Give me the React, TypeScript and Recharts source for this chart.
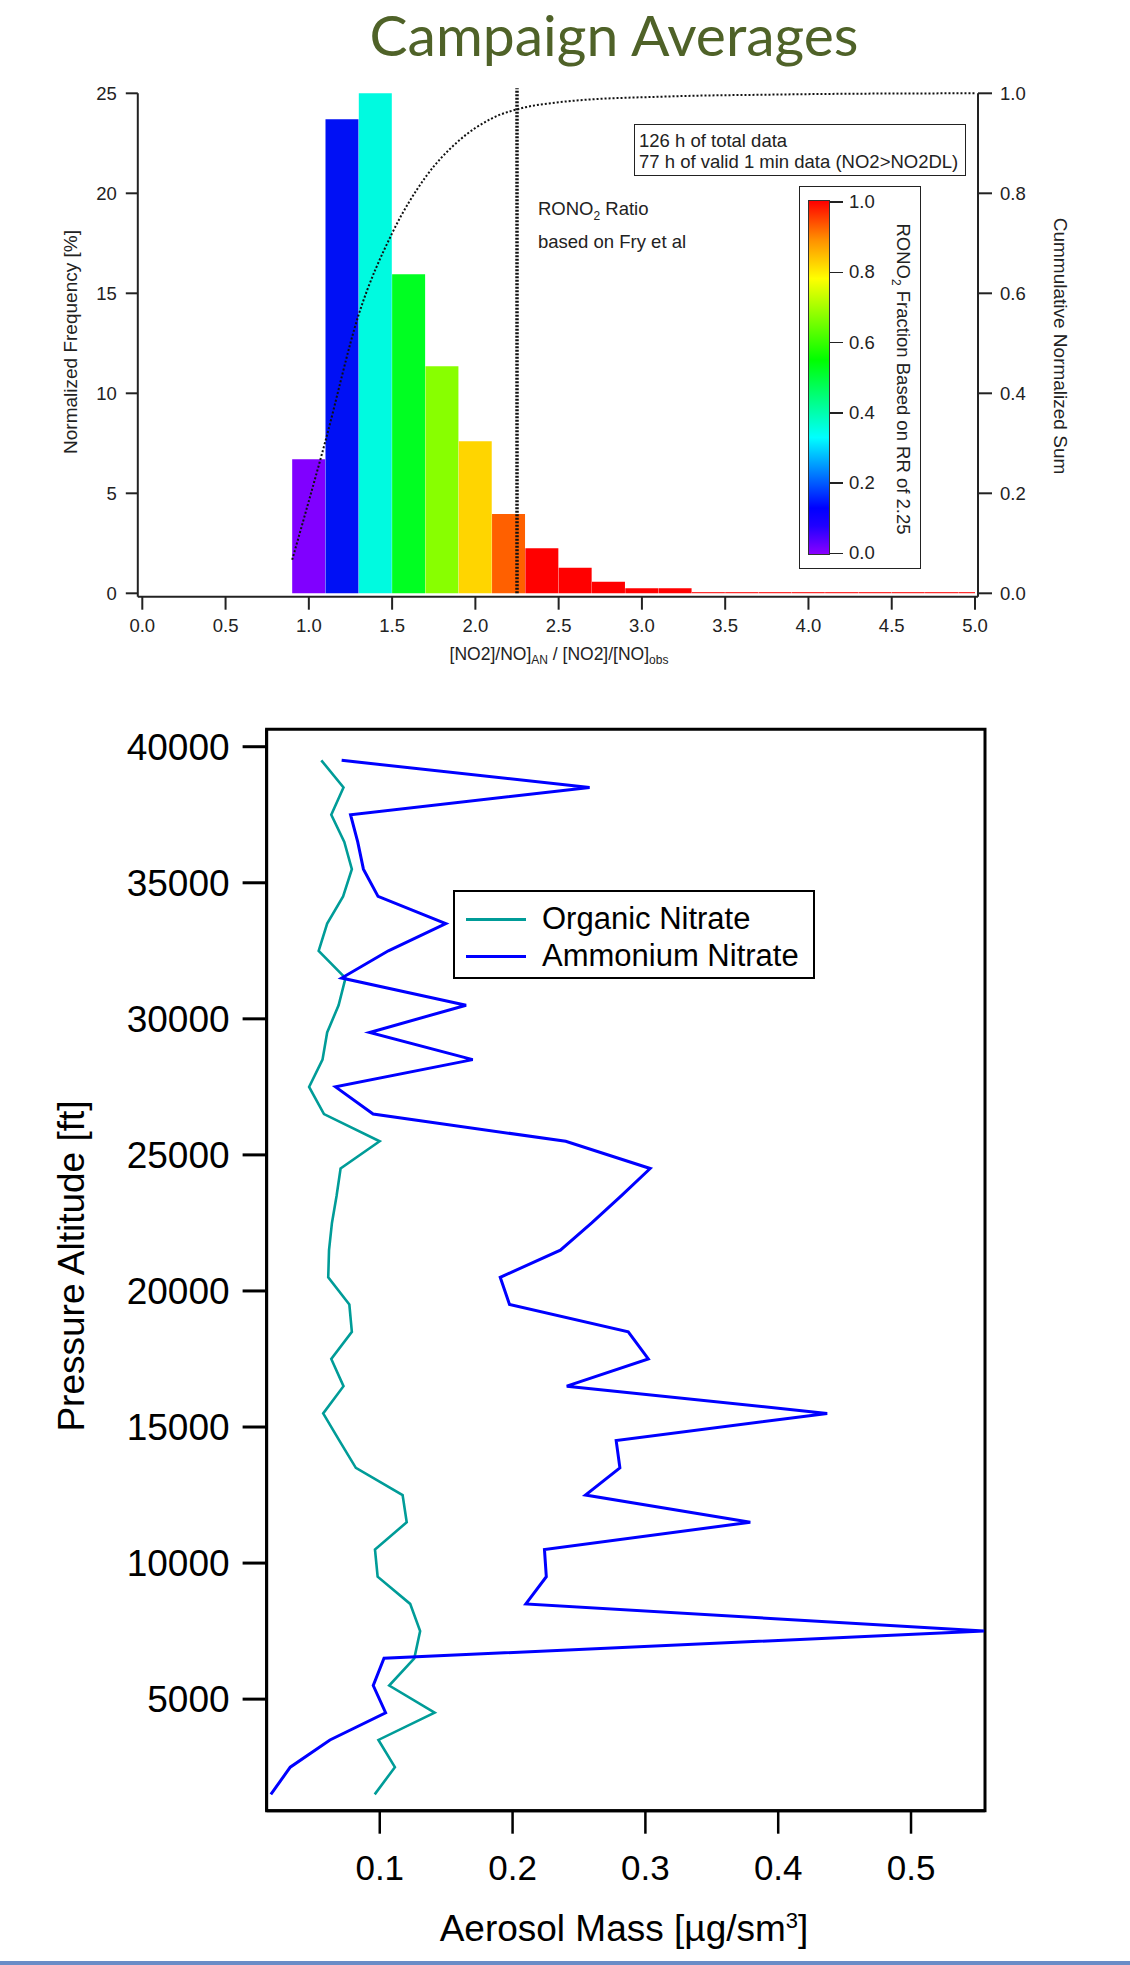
import React from "react";
import {
  ComposedChart,
  Bar,
  Cell,
  Line,
  LineChart,
  XAxis,
  YAxis,
  ReferenceLine,
  ReferenceArea,
} from "recharts";

// ---------- top histogram ----------
const binCenters = [1.0, 1.2, 1.4, 1.6, 1.8, 2.0, 2.2, 2.4, 2.6, 2.8, 3.0, 3.2, 3.4, 3.6, 3.8, 4.0, 4.2, 4.4, 4.6, 4.8, 5.0];
const binFreq = [6.7, 23.7, 25.0, 15.95, 11.35, 7.6, 3.97, 2.25, 1.28, 0.58, 0.25, 0.25, 0.06, 0.06, 0.06, 0.06, 0.06, 0.06, 0.06, 0.06, 0.06];
const binColors = [
  "#8000FF", "#0010F5", "#00FAE0", "#00FF22", "#88FF00", "#FFD500", "#FF6000",
  "#FF0000", "#FF0000", "#FF0000", "#FF0000", "#FF0000", "#FF3030", "#FF3030",
  "#FF3030", "#FF3030", "#FF3030", "#FF3030", "#FF3030", "#FF3030", "#FF3030",
];

const cumX = [0.9, 1.1, 1.3, 1.5, 1.7, 1.9, 2.1, 2.3, 2.5, 2.7, 2.9, 3.1, 3.3, 3.7, 4.2, 5.0];
const cumSum = [0.067, 0.305, 0.558, 0.72, 0.832, 0.905, 0.95, 0.972, 0.982, 0.988, 0.991, 0.993, 0.995, 0.997, 0.999, 1.0];

const freqTicks = [0, 5, 10, 15, 20, 25];
const ratioTicks = [0, 0.5, 1.0, 1.5, 2.0, 2.5, 3.0, 3.5, 4.0, 4.5, 5.0];
const cumTicks = [0, 0.2, 0.4, 0.6, 0.8, 1.0];
const fryRatio = 2.25;

const colorbarTicks = [0, 0.2, 0.4, 0.6, 0.8, 1.0];
const colorbarStops = [
  "#8A00FF 0%", "#2000FF 8%", "#0000FF 13%", "#00FFFF 33%", "#00FF00 55%",
  "#FFFF00 78%", "#FF9000 89%", "#FF0000 100%",
];

// ---------- bottom profile ----------
const altitudes = [
  39500, 38500, 37500, 36500, 35500, 34500, 33500, 32500, 31500, 30500,
  29500, 28500, 27500, 26500, 25500, 24500, 23500, 22500, 21500, 20500,
  19500, 18500, 17500, 16500, 15500, 14500, 13500, 12500, 11500, 10500,
  9500, 8500, 7500, 6500, 5500, 4500, 3500, 2500, 1500,
];
const organicNitrate = [
  0.056, 0.0727, 0.0635, 0.0733, 0.079, 0.0724, 0.0604, 0.054, 0.0742, 0.069,
  0.0604, 0.0569, 0.0468, 0.058, 0.0999, 0.0705, 0.0675, 0.064, 0.0618, 0.0612,
  0.0771, 0.079, 0.0635, 0.0727, 0.0574, 0.0696, 0.082, 0.1172, 0.1203, 0.0964,
  0.0984, 0.1229, 0.1304, 0.126, 0.1071, 0.1413, 0.099, 0.1114, 0.0962,
];
const ammoniumNitrate = [
  0.0713, 0.258, 0.078, 0.0834, 0.0877, 0.0987, 0.1497, 0.1065, 0.0713, 0.165,
  0.0924, 0.17, 0.0667, 0.095, 0.24, 0.3036, 0.282, 0.2596, 0.236, 0.1907,
  0.1977, 0.2871, 0.3022, 0.2408, 0.4369, 0.278, 0.2808, 0.2549, 0.379, 0.224,
  0.2254, 0.21, 0.555, 0.1032, 0.0951, 0.1044, 0.0625, 0.0326, 0.018,
];
const seriesNames = ["Organic Nitrate", "Ammonium Nitrate"];
const seriesColors = ["#009C98", "#0000FF"];
const altTicks = [5000, 10000, 15000, 20000, 25000, 30000, 35000, 40000];
const massTicks = [0.1, 0.2, 0.3, 0.4, 0.5];
const altDomain = [900, 40640];
const massDomain = [0.0148, 0.5557];

const histData = binCenters.map((x, i) => ({ x, freq: binFreq[i] }));
const cumData = cumX.map((x, i) => ({ x, cum: cumSum[i] }));
const profileRows = altitudes.map((alt, i) => ({
  alt,
  organic: organicNitrate[i],
  ammonium: ammoniumNitrate[i],
}));

const FONT = "'Liberation Sans', Arial, sans-serif";
const topTick = { fontSize: 18.5, fill: "#222", fontFamily: FONT };
const botTickY = { fontSize: 37, fill: "#000", fontFamily: FONT };
const botTickX = { fontSize: 35, fill: "#000", fontFamily: FONT };
const topAxisLine = { stroke: "#222", strokeWidth: 2 };

// plot box of the histogram (page pixels)
const TOP_W = 1130;
const TOP_H = 700;
const topMargin = { top: 93.3, left: 137.8, right: 152, bottom: 103.3 };
const xPad = { left: 4.5, right: 3 };
const yPad = { top: 0, bottom: 3.4 };

const abs = (left: number, top: number, extra: any = {}) => ({
  position: "absolute" as const,
  left,
  top,
  ...extra,
});

const rotated = (cx: number, cy: number, deg: number, size: number, extra: any = {}) => ({
  position: "absolute" as const,
  left: cx,
  top: cy,
  transform: `translate(-50%, -50%) rotate(${deg}deg)`,
  whiteSpace: "nowrap" as const,
  fontSize: size,
  fontFamily: FONT,
  lineHeight: 1,
  ...extra,
});

function Colorbar() {
  const top = 202;
  const bottom = 553.3;
  return (
    <>
      <div style={abs(799, 186, { width: 120, height: 381, border: "1.5px solid #222" })} />
      <div
        style={abs(808, 200, {
          width: 20,
          height: 353,
          border: "1px solid #333",
          background: `linear-gradient(to top, ${colorbarStops.join(", ")})`,
        })}
      />
      {colorbarTicks.map((t) => {
        const y = bottom - t * (bottom - top);
        return (
          <React.Fragment key={t}>
            <div style={abs(830, y - 0.75, { width: 13, height: 1.5, background: "#222" })} />
            <div style={abs(849, y - 11, { fontSize: 18.5, fontFamily: FONT, color: "#222", lineHeight: "22px" })}>
              {t.toFixed(1)}
            </div>
          </React.Fragment>
        );
      })}
      <div style={rotated(901, 379, 90, 18.5, { color: "#222" })}>
        RONO<sub style={{ fontSize: 12 }}>2</sub> Fraction Based on RR of 2.25
      </div>
    </>
  );
}

export default function App() {
  return (
    <div style={abs(0, 0, { width: 1130, height: 1965, background: "#fff", overflow: "hidden", fontFamily: FONT })}>
      <div
        style={{
          position: "absolute",
          left: 614,
          top: 0,
          transform: "translateX(-50%)",
          fontFamily: "Lato, 'Open Sans', sans-serif",
          fontSize: 57,
          lineHeight: 1.2,
          color: "#4F6228",
          whiteSpace: "nowrap",
        }}
      >
        Campaign Averages
      </div>

      {/* histogram with left and bottom axes */}
      <div style={abs(0, 0)}>
        <ComposedChart
          width={TOP_W}
          height={TOP_H}
          data={histData}
          margin={{ top: topMargin.top, left: 0, right: topMargin.right, bottom: 0 }}
          barCategoryGap={0}
          barGap={0}
        >
          <XAxis
            dataKey="x"
            type="number"
            domain={[0, 5]}
            ticks={ratioTicks}
            tickFormatter={(v: number) => v.toFixed(1)}
            allowDataOverflow
            padding={xPad}
            height={topMargin.bottom}
            tickSize={13}
            tickMargin={9}
            tick={topTick}
            axisLine={topAxisLine}
            tickLine={topAxisLine}
          />
          <YAxis
            type="number"
            domain={[0, 25]}
            ticks={freqTicks}
            padding={yPad}
            width={topMargin.left}
            tickSize={12}
            tickMargin={9}
            tick={topTick}
            axisLine={topAxisLine}
            tickLine={topAxisLine}
          />
          <Bar dataKey="freq" isAnimationActive={false}>
            {histData.map((d, i) => (
              <Cell key={i} fill={binColors[i]} />
            ))}
          </Bar>
          <ReferenceLine
            segment={[{ x: fryRatio, y: 0 }, { x: fryRatio, y: 25.25 }]}
            ifOverflow="visible"
            stroke="#111"
            strokeWidth={3.5}
            strokeDasharray="2 1.5"
          />
        </ComposedChart>
      </div>

      {/* cumulative curve with the right axis, same plot box */}
      <div style={abs(0, 0)}>
        <LineChart
          width={TOP_W}
          height={TOP_H}
          data={cumData}
          margin={{ top: topMargin.top, left: topMargin.left, right: 0, bottom: topMargin.bottom }}
        >
          <XAxis dataKey="x" type="number" domain={[0, 5]} padding={xPad} hide />
          <YAxis
            orientation="right"
            type="number"
            domain={[0, 1]}
            ticks={cumTicks}
            tickFormatter={(v: number) => v.toFixed(1)}
            padding={yPad}
            width={topMargin.right}
            tickSize={14}
            tickMargin={8}
            tick={topTick}
            axisLine={topAxisLine}
            tickLine={topAxisLine}
          />
          <Line
            dataKey="cum"
            type="monotone"
            stroke="#111"
            strokeWidth={2}
            strokeDasharray="2 2"
            dot={false}
            isAnimationActive={false}
          />
        </LineChart>
      </div>

      <div style={rotated(70, 342, -90, 19, { color: "#222" })}>Normalized Frequency [%]</div>
      <div style={rotated(1060, 346, 90, 19, { color: "#222" })}>Cummulative Normalized Sum</div>
      <div style={rotated(559, 656, 0, 17.5, { color: "#222" })}>
        [NO2]/NO]<sub style={{ fontSize: 12 }}>AN</sub> / [NO2]/[NO]<sub style={{ fontSize: 12 }}>obs</sub>
      </div>

      <div style={abs(538, 196, { fontSize: 18.5, lineHeight: "25px", color: "#222", whiteSpace: "nowrap" })}>
        RONO<sub style={{ fontSize: 12 }}>2</sub> Ratio
        <br />
        based on Fry et al
      </div>

      <div
        style={abs(634, 124, {
          width: 332,
          height: 52,
          border: "1.5px solid #222",
          fontSize: 18.5,
          lineHeight: "21px",
          padding: "5px 0 0 4px",
          boxSizing: "border-box",
          color: "#222",
          whiteSpace: "nowrap",
        })}
      >
        126 h of total data
        <br />
        77 h of valid 1 min data (NO2&gt;NO2DL)
      </div>

      <Colorbar />

      {/* vertical profiles */}
      <div style={abs(0, 700)}>
        <LineChart
          layout="vertical"
          width={1130}
          height={1265}
          data={profileRows}
          margin={{ top: 29.3, left: 0, right: 145, bottom: 0 }}
        >
          <XAxis
            type="number"
            domain={massDomain}
            ticks={massTicks}
            allowDataOverflow
            height={154.3}
            tickSize={23}
            tickMargin={21}
            tick={botTickX}
            axisLine={{ stroke: "#000", strokeWidth: 3 }}
            tickLine={{ stroke: "#000", strokeWidth: 2.5 }}
          />
          <YAxis
            type="number"
            dataKey="alt"
            domain={altDomain}
            ticks={altTicks}
            reversed
            allowDataOverflow
            width={266.6}
            tickSize={24}
            tickMargin={13}
            tick={botTickY}
            axisLine={{ stroke: "#000", strokeWidth: 3 }}
            tickLine={{ stroke: "#000", strokeWidth: 3 }}
          />
          <ReferenceArea
            x1={massDomain[0]}
            x2={massDomain[1]}
            y1={altDomain[0]}
            y2={altDomain[1]}
            fill="none"
            fillOpacity={0}
            stroke="#000"
            strokeWidth={3}
          />
          <Line
            dataKey="organic"
            name={seriesNames[0]}
            stroke={seriesColors[0]}
            strokeWidth={2.6}
            dot={false}
            isAnimationActive={false}
          />
          <Line
            dataKey="ammonium"
            name={seriesNames[1]}
            stroke={seriesColors[1]}
            strokeWidth={3}
            dot={false}
            isAnimationActive={false}
          />
        </LineChart>
      </div>

      <div style={rotated(71, 1266, -90, 37)}>Pressure Altitude [ft]</div>
      <div style={rotated(624, 1928, 0, 37)}>
        Aerosol Mass [µg/sm<sup style={{ fontSize: 22, verticalAlign: "0.55em" }}>3</sup>]
      </div>

      <div style={abs(453, 890, { width: 362, height: 89, border: "2.5px solid #000", boxSizing: "border-box", background: "#fff" })}>
        {seriesNames.map((n, i) => (
          <div key={n} style={{ position: "absolute", left: 0, top: 9 + i * 36.6, height: 36, width: 360 }}>
            <div style={{ position: "absolute", left: 11, top: 17, width: 60, height: 3, background: seriesColors[i] }} />
            <div style={{ position: "absolute", left: 87, top: 0, fontSize: 31, lineHeight: "36px", whiteSpace: "nowrap" }}>{n}</div>
          </div>
        ))}
      </div>

      <div style={abs(0, 1961, { width: 1130, height: 4, background: "#6A8CC7" })} />
    </div>
  );
}
